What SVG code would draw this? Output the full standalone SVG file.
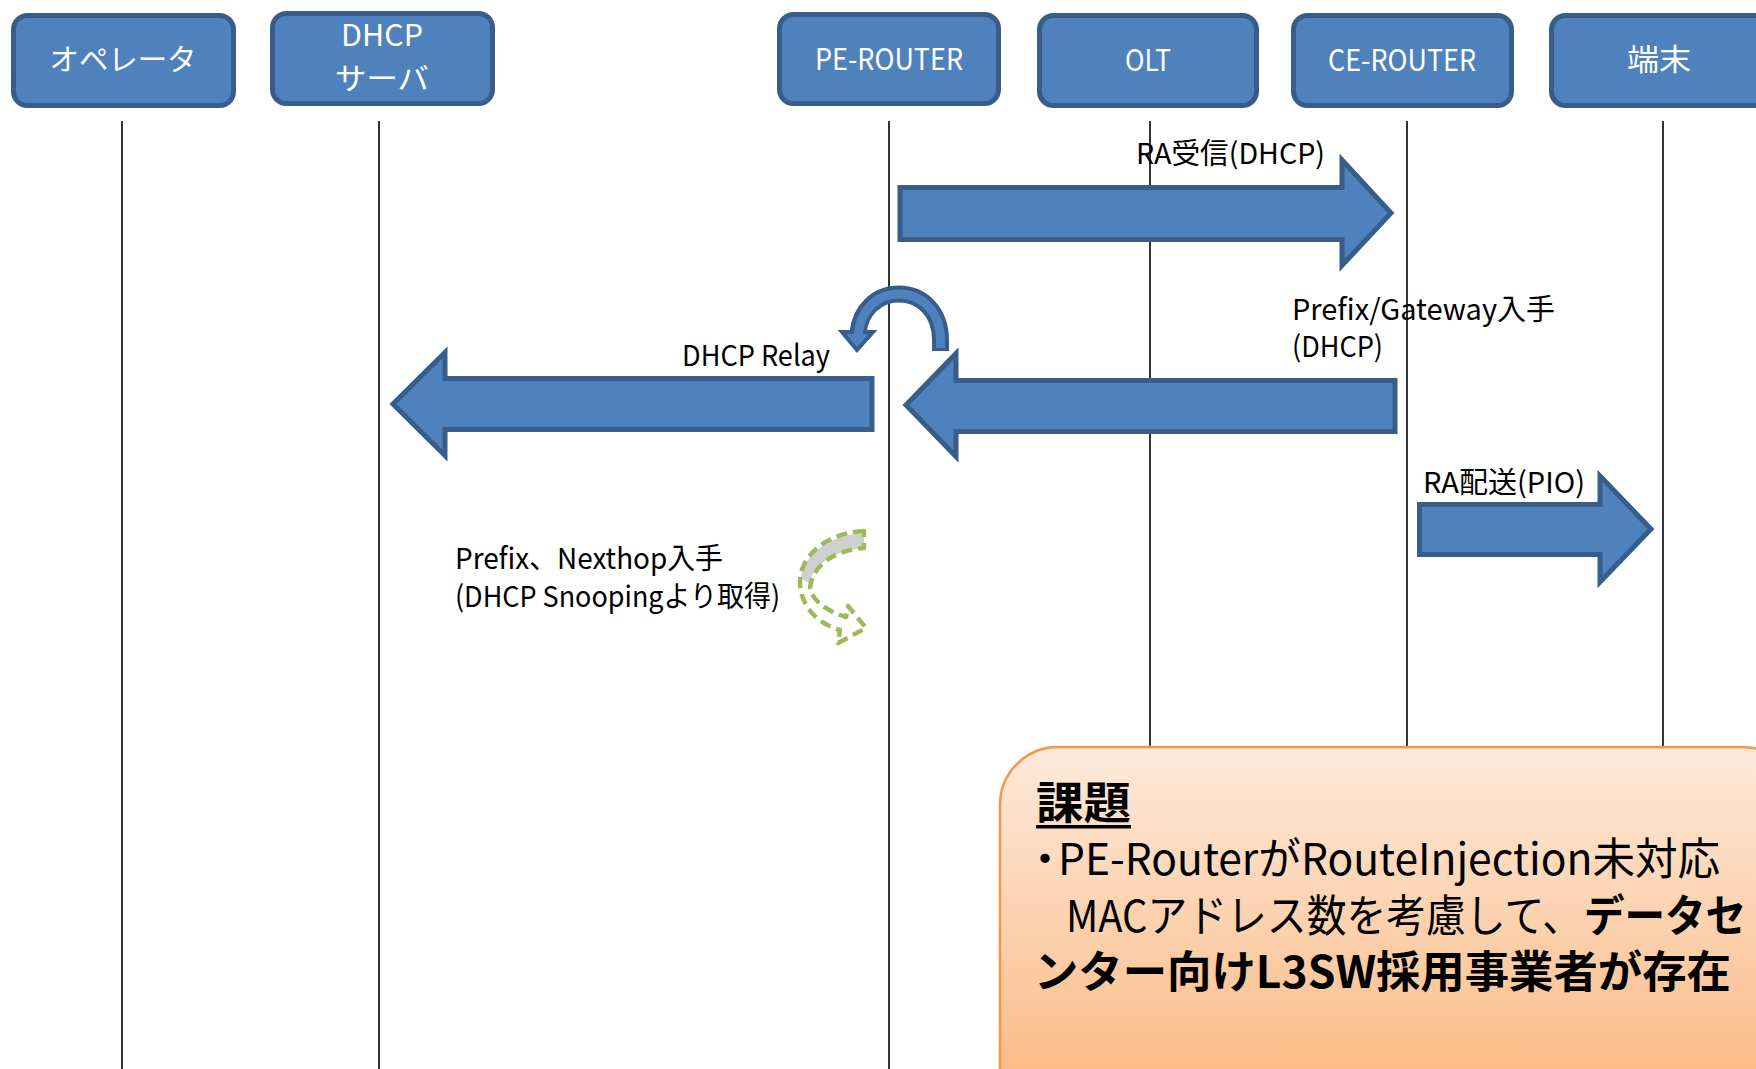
<svg xmlns="http://www.w3.org/2000/svg" width="1756" height="1069" viewBox="0 0 1756 1069">
  <style>
    .box { fill: #4f81bd; stroke: #385d8a; stroke-width: 5; }
    .boxlabel { font-family: "Noto Sans CJK JP", "Noto Sans", sans-serif; font-size: 30px; fill: #ffffff; text-anchor: middle; }
    .life { stroke: #000000; stroke-width: 1.6; fill: none; }
    .msg { fill: #4f81bd; stroke: #385d8a; stroke-width: 5; stroke-linejoin: miter; }
    .label { font-family: "Noto Sans CJK JP", "Noto Sans", sans-serif; font-size: 29px; fill: #000000; }
    .note { font-family: "Noto Sans CJK JP", "Noto Sans", sans-serif; font-size: 44px; fill: #000000; }
    .bold { font-weight: bold; }
    .snoop { fill: none; stroke: #9bbb59; stroke-width: 4.5; stroke-dasharray: 11 6; stroke-linejoin: round; }
  </style>
  <defs>
    <linearGradient id="calloutFill" gradientUnits="userSpaceOnUse" x1="0" y1="747" x2="0" y2="1069">
      <stop offset="0" stop-color="#fdeadb"/>
      <stop offset="1" stop-color="#fbbd89"/>
    </linearGradient>
  </defs>

  <rect width="1756" height="1069" fill="#ffffff"/>

  <!-- message labels (drawn under the lifelines) -->
  <g id="labels">
    <text class="label" x="1136" y="164" textLength="189" lengthAdjust="spacingAndGlyphs">RA受信(DHCP)</text>
    <text class="label" x="682" y="366" textLength="148" lengthAdjust="spacingAndGlyphs">DHCP Relay</text>
    <text class="label" x="1292" y="320" textLength="263" lengthAdjust="spacingAndGlyphs">Prefix/Gateway入手</text>
    <text class="label" x="1292" y="357" textLength="91" lengthAdjust="spacingAndGlyphs">(DHCP)</text>
    <text class="label" x="1423" y="493" textLength="162" lengthAdjust="spacingAndGlyphs">RA配送(PIO)</text>
    <text class="label" x="455" y="569" textLength="268" lengthAdjust="spacingAndGlyphs">Prefix、Nexthop入手</text>
    <text class="label" x="455" y="607" textLength="325" lengthAdjust="spacingAndGlyphs">(DHCP Snoopingより取得)</text>
  </g>

  <!-- lifelines -->
  <g id="lifelines">
    <line class="life" x1="122" y1="121" x2="122" y2="1069"/>
    <line class="life" x1="379" y1="121" x2="379" y2="1069"/>
    <line class="life" x1="889" y1="121" x2="889" y2="1069"/>
    <line class="life" x1="1150" y1="121" x2="1150" y2="750"/>
    <line class="life" x1="1407" y1="121" x2="1407" y2="750"/>
    <line class="life" x1="1663" y1="121" x2="1663" y2="750"/>
  </g>

  <!-- nodes -->
  <g id="node-operator">
    <rect class="box" x="13.5" y="15.5" width="220" height="90" rx="14"/>
    <text class="boxlabel" x="123" y="70" textLength="147" lengthAdjust="spacingAndGlyphs">オペレータ</text>
  </g>
  <g id="node-dhcp-server">
    <rect class="box" x="272.5" y="13.5" width="220" height="90" rx="14"/>
    <text class="boxlabel" x="382" y="46" textLength="82" lengthAdjust="spacingAndGlyphs">DHCP</text>
    <text class="boxlabel" x="382" y="89" textLength="94" lengthAdjust="spacingAndGlyphs">サーバ</text>
  </g>
  <g id="node-pe-router">
    <rect class="box" x="779.5" y="14.5" width="219" height="89" rx="14"/>
    <text class="boxlabel" x="889" y="70" textLength="148" lengthAdjust="spacingAndGlyphs">PE-ROUTER</text>
  </g>
  <g id="node-olt">
    <rect class="box" x="1039.5" y="15.5" width="217" height="90" rx="14"/>
    <text class="boxlabel" x="1148" y="71" textLength="46" lengthAdjust="spacingAndGlyphs">OLT</text>
  </g>
  <g id="node-ce-router">
    <rect class="box" x="1293.5" y="15.5" width="218" height="90" rx="14"/>
    <text class="boxlabel" x="1402" y="71" textLength="148" lengthAdjust="spacingAndGlyphs">CE-ROUTER</text>
  </g>
  <g id="node-terminal">
    <rect class="box" x="1551.5" y="15.5" width="220" height="90" rx="14"/>
    <text class="boxlabel" x="1659" y="70" textLength="64" lengthAdjust="spacingAndGlyphs">端末</text>
  </g>

  <!-- block arrows between lifelines -->
  <g id="connectors">
    <!-- PE-ROUTER to CE-ROUTER -->
    <path class="msg" d="M900 187.5 H1342 V160 L1391 213 L1342 265.5 V239.5 H900 Z"/>
    <!-- PE-ROUTER to DHCP server (relay) -->
    <path class="msg" d="M872 378.5 H445 V352.5 L393 404 L445 455.5 V429.5 H872 Z"/>
    <!-- CE-ROUTER to PE-ROUTER -->
    <path class="msg" d="M1395 380.5 H956 V353.5 L906 405 L956 456.5 V431.5 H1395 Z"/>
    <!-- CE-ROUTER to terminal -->
    <path class="msg" d="M1419.5 504.5 H1600 V476 L1651 529 L1600 582 V554.5 H1419.5 Z"/>

    <!-- relay turn-around at PE-ROUTER -->
    <g id="relay-turn">
      <path d="M940.5 351 V340 C940.5 312 922 294 899 294 C876 294 860 311 858 333" fill="none" stroke="#385d8a" stroke-width="17"/>
      <path d="M842 332 L873 332 L857 350 Z" fill="#4f81bd" stroke="#385d8a" stroke-width="4" stroke-linejoin="miter"/>
      <path d="M940.5 348 V340 C940.5 312 922 294 899 294 C876 294 860 311 858.3 335" fill="none" stroke="#4f81bd" stroke-width="9"/>
    </g>

    <!-- snooping curved arrow -->
    <g id="snoop-turn">
      <path d="M864 533 C828 535 803 556 801 579 L810 583 C814 563 836 550 864 548 Z" fill="#d0d0d0"/>
      <path class="snoop" d="M864 531 C826 533 800 556 800 582 C800 606 818 624 840 630 L838 643 L866 628 L848 606 L846 617 C826 611 812 600 810 588 C812 566 834 550 864 548 Z"/>
    </g>
  </g>

  <!-- issue callout -->
  <g id="node-issue">
    <rect x="1000" y="747" width="800" height="400" rx="58" fill="url(#calloutFill)" stroke="#f79646" stroke-width="2.5"/>
    <text class="note bold" x="1036" y="819" textLength="95" lengthAdjust="spacingAndGlyphs" font-size="48">課題</text>
    <rect x="1036" y="825" width="95" height="3.5" fill="#000000"/>
    <text class="note" x="1023" y="875">・</text>
    <text class="note" x="1058" y="875" textLength="662" lengthAdjust="spacingAndGlyphs">PE-RouterがRouteInjection未対応</text>
    <text class="note" x="1066" y="932" textLength="516" lengthAdjust="spacingAndGlyphs">MACアドレス数を考慮して、</text>
    <text class="note bold" x="1584" y="932" textLength="162" lengthAdjust="spacingAndGlyphs">データセ</text>
    <text class="note bold" x="1034" y="988" textLength="697" lengthAdjust="spacingAndGlyphs">ンター向けL3SW採用事業者が存在</text>
  </g>
</svg>
